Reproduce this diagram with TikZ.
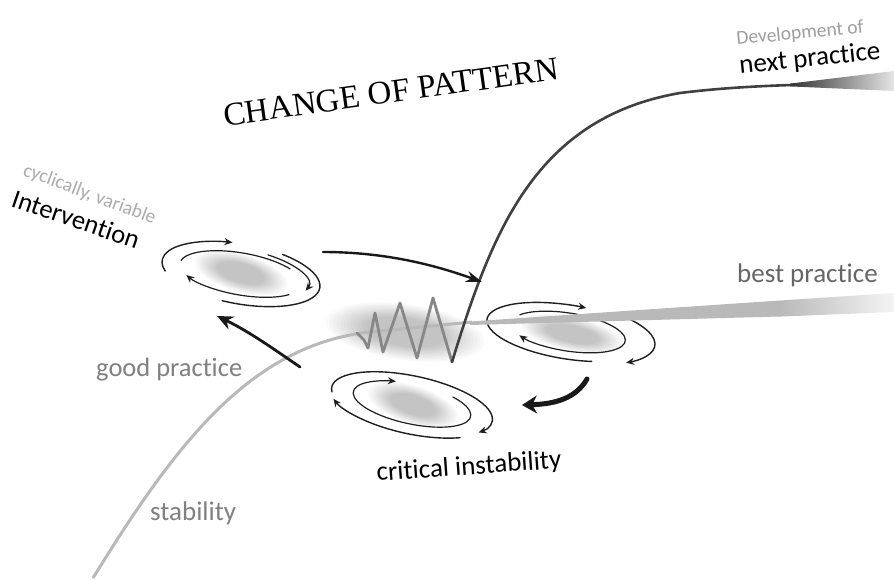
\documentclass[tikz,border=0pt]{standalone}
\usepackage{fontspec}
\setmainfont[RawFeature={-liga;-calt;-dlig}]{Carlito}
\newfontfamily\titlefont{Liberation Serif}
\usetikzlibrary{arrows.meta}
\newcommand{\myblob}[5]{%
  \begin{scope}[shift={(#1,-#2)},rotate=#5]
    \foreach \k in {0,...,11}{%
      \fill[black,opacity=0.02] (0,0) ellipse[x radius={#3*(1-0.045*\k)}, y radius={#4*(1-0.045*\k)}];}
  \end{scope}}
\begin{document}
\begin{tikzpicture}[x=1pt,y=1pt,
  vo/.style={draw=black!88, line width=1.4pt, line cap=round},
  vi/.style={draw=black!88, line width=1.2pt, line cap=round},
  vtip/.style={-{Stealth[length=8pt,width=7pt]}},
  bigarrow/.style={draw=black!90, line cap=round},
  lbl/.style={inner sep=0pt, font=\fontsize{27}{31}\selectfont},
  small/.style={inner sep=0pt, font=\fontsize{19.5}{23}\selectfont},
 ]
\fill[white] (0,0) rectangle (894,-580);
\useasboundingbox (0,0) rectangle (894,-580);

% soft grey blobs
\myblob{405}{332}{80}{28}{-8}
\myblob{241}{273}{48}{19}{-16}
\myblob{572}{334}{52}{17}{-12}
\myblob{413}{405}{47}{19}{-18}

% left vortex
\begin{scope}[shift={(241,-274)},rotate=-10]
  \draw[vo,vtip] (200:80 and 30) arc[start angle=200,end angle=100,x radius=80,y radius=30];
  \draw[vo] (62:80 and 30) arc[start angle=62,end angle=-100,x radius=80,y radius=30];
  \draw[vi,vtip] (70:68 and 25) arc[start angle=70,end angle=-12,x radius=68,y radius=25];
  \draw[vi] (172:62 and 21) arc[start angle=172,end angle=40,x radius=62,y radius=21];
  \draw[vi,vtip] (-35:62 and 21) arc[start angle=-35,end angle=-150,x radius=62,y radius=21];
\end{scope}

% middle-right vortex
\begin{scope}[shift={(568,-332)},rotate=-9]
  \draw[vo,vtip] (-70:82 and 27) arc[start angle=-70,end angle=-280,x radius=82,y radius=27];
  \draw[vo,vtip] (50:88 and 30) arc[start angle=50,end angle=-45,x radius=88,y radius=30];
  \draw[vi,vtip] (150:58 and 19) arc[start angle=150,end angle=-145,x radius=58,y radius=19];
\end{scope}

% bottom vortex
\begin{scope}[shift={(412,-404)},rotate=-12]
  \draw[vo,vtip] (190:82 and 28) arc[start angle=190,end angle=-30,x radius=82,y radius=28];
  \draw[vi,vtip] (50:60 and 20) arc[start angle=50,end angle=-250,x radius=60,y radius=20];
  \draw[vo,vtip] (-50:84 and 30) arc[start angle=-50,end angle=-158,x radius=84,y radius=30];
\end{scope}

% grey curve and band
\draw[draw=gray!55, line width=3pt] (93,-578) .. controls (175,-445) and (250,-345) .. (370,-332) -- (472,-322);
\fill[gray!55] (470,-321.5) -- (780,-300.5) -- (780,-316.5) -- (470,-325) -- cycle;
\shade[left color=gray!55, right color=gray!8] (779,-300.6) -- (894,-293) -- (894,-312) -- (779,-316.6) -- cycle;

% zigzag
\draw[draw=black!47, line width=2.8pt, line join=round, line cap=round]
  (357,-333) -- (364,-340) -- (368,-348) -- (375,-313) -- (383,-352) -- (400,-303)
  -- (417,-358) -- (433,-298) -- (452,-362);

% dark curve (next practice)
\coordinate (z) at (452,-362);
\coordinate (w) at (792,-85);
\draw[draw=black!75, line width=2.6pt, line cap=round]
  (z) .. controls (492,-232) and (535,-118) .. (680,-93) .. controls (720,-88) and (760,-86) .. (w);
\shade[left color=black!80, right color=black!10] (790,-83.6) -- (894,-71) -- (894,-91) -- (790,-86.4) -- cycle;

% big arrows
\coordinate (a1s) at (323,-252); \coordinate (a1e) at (482,-282);
\draw[bigarrow, line width=2.4pt, -{Stealth[length=16pt,width=11pt]}]
  (a1s) .. controls (385,-252) and (435,-265) .. (a1e);
\coordinate (a2s) at (300,-367); \coordinate (a2e) at (217,-316);
\draw[bigarrow, line width=2.8pt, -{Stealth[length=16pt,width=14pt]}]
  (a2s) .. controls (275,-350) and (250,-332) .. (a2e);
\coordinate (a3s) at (587,-379); \coordinate (a3e) at (522,-405);
\draw[bigarrow, line width=5pt, -{Stealth[length=15pt,width=18pt]}]
  (a3s) .. controls (576,-398) and (556,-404) .. (a3e);

% texts
\node[font=\titlefont\fontsize{33}{36}\selectfont, rotate=8, inner sep=0pt] (title) at (391,-92) {CHANGE OF PATTERN};
\node[small, anchor=base west, rotate=5.5, text=black!38] (dev) at (737,-45) {Development of};
\node[lbl, anchor=base west, rotate=6] (next) at (740,-74) {next practice};
\node[small, anchor=base west, rotate=-20.5, text=black!33] (cyc) at (22,-175) {cyclically, variable};
\node[lbl, anchor=base west, rotate=-19, font=\fontsize{26.5}{30}\selectfont] (int) at (10,-206) {Intervention};
\node[lbl, anchor=base west, text=black!60] (best) at (737,-282) {best practice};
\node[lbl, anchor=base west, text=black!50, font=\fontsize{26.5}{30}\selectfont] (good) at (96,-376) {good practice};
\node[lbl, anchor=base west, text=black!50] (stab) at (150,-520) {stability};
\node[lbl, anchor=base west, rotate=4] (crit) at (377,-481) {critical instability};
\end{tikzpicture}
\end{document}
